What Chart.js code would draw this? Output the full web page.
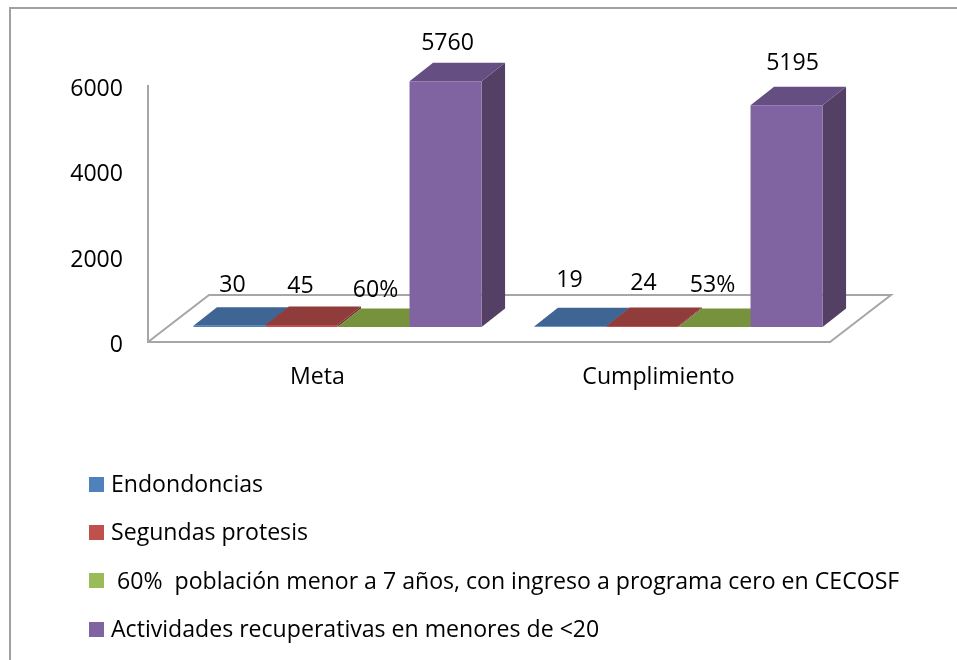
<!DOCTYPE html>
<html>
<head>
<meta charset="utf-8">
<style>html,body{margin:0;padding:0;background:#fff}canvas{display:block}</style>
<script src="https://cdn.jsdelivr.net/npm/chart.js@4"></script>
</head>
<body>
<canvas id="c" width="957" height="660"></canvas>
<script>
const categories = ['Meta', 'Cumplimiento'];
const seriesNames = ['Endondoncias', 'Segundas protesis', ' 60%  población menor a 7 años, con ingreso a programa cero en CECOSF', 'Actividades recuperativas en menores de <20'];
const endodoncias = [30, 19];
const segundasProtesis = [45, 24];
const poblacionMenor = [0.6, 0.53];
const actividades = [5760, 5195];
const valueLabels = [['30', '19'], ['45', '24'], ['60%', '53%'], ['5760', '5195']];
const yTicks = [0, 2000, 4000, 6000];

const FONT_FAMILY = '"Open Sans"';
const FONT_SIZE = 23.1;
const FONT = FONT_SIZE + 'px ' + FONT_FAMILY;
const front = ['#4F81BD', '#C0504D', '#9BBB59', '#8064A2'];
const top3d = ['#3E6593', '#8F3C3A', '#76923C', '#654E82'];
const side3d = ['#2F4D70', '#6E2E2C', '#5A702E', '#544065'];
const GRAY = '#A6A6A6';
const BAR_SHIFT = {x: 19, y: -15};
const BAR_DEPTH = {x: 23.5, y: -18.5};
const FLOOR_DEPTH = {x: 61, y: -47};
const labelNudge = [[[3, -40.5], [-1, -45.5]], [[-1, -38.5], [1, -42.5]], [[2, -36.5], [-2, -41.5]], [[2, -37.5], [6, -41.5]]];
const legendRows = [485, 533.5, 582, 630.5];
const legendSwatches = [484.5, 532.5, 580.5, 629.5];

function poly(ctx, pts, fill) {
  ctx.beginPath();
  pts.forEach((p, i) => i ? ctx.lineTo(p[0], p[1]) : ctx.moveTo(p[0], p[1]));
  ctx.closePath();
  ctx.fillStyle = fill;
  ctx.fill();
}

const frame3d = {
  id: 'frame3d',
  beforeDatasetsDraw(chart) {
    const {ctx, chartArea: a} = chart;
    ctx.save();
    ctx.fillStyle = '#A0A0A0';
    ctx.fillRect(9, 7, 948, 2);
    ctx.fillRect(9, 7, 2, 653);
    ctx.strokeStyle = GRAY;
    ctx.lineWidth = 2;
    ctx.beginPath();
    ctx.moveTo(a.left, a.bottom);
    ctx.lineTo(a.left + FLOOR_DEPTH.x, a.bottom + FLOOR_DEPTH.y);
    ctx.lineTo(a.right + FLOOR_DEPTH.x, a.bottom + FLOOR_DEPTH.y);
    ctx.lineTo(a.right, a.bottom);
    ctx.stroke();
    ctx.restore();
    ctx.save();
    ctx.translate(BAR_SHIFT.x, BAR_SHIFT.y);
    chart.data.datasets.forEach((ds, i) => {
      chart.getDatasetMeta(i).data.forEach(bar => {
        const l = bar.x - bar.width / 2, r = bar.x + bar.width / 2, t = bar.y, b = bar.base;
        const d = BAR_DEPTH;
        poly(ctx, [[r, t], [r + d.x, t + d.y], [r + d.x, b + d.y], [r, b]], side3d[i]);
        poly(ctx, [[l, t], [l + d.x, t + d.y], [r + d.x, t + d.y], [r, t]], top3d[i]);
      });
    });
  },
  afterDatasetsDraw(chart) {
    const {ctx} = chart;
    ctx.restore();
    ctx.save();
    ctx.font = FONT;
    ctx.fillStyle = '#000';
    ctx.textAlign = 'center';
    ctx.textBaseline = 'middle';
    chart.data.datasets.forEach((ds, i) => {
      chart.getDatasetMeta(i).data.forEach((bar, j) => {
        const n = labelNudge[i][j];
        ctx.fillText(valueLabels[i][j], bar.x + BAR_SHIFT.x + n[0], bar.y + BAR_SHIFT.y + n[1]);
      });
    });
    ctx.textAlign = 'left';
    chart.data.datasets.forEach((ds, i) => {
      ctx.fillStyle = front[i];
      ctx.fillRect(89, legendSwatches[i] - 7.5, 15, 15);
      ctx.fillStyle = '#000';
      ctx.fillText(ds.label, 111, legendRows[i]);
    });
    ctx.restore();
  }
};

const seriesValues = [endodoncias, segundasProtesis, poblacionMenor, actividades];
new Chart(document.getElementById('c'), {
  type: 'bar',
  data: {
    labels: categories,
    datasets: seriesNames.map((name, i) => ({
      label: name,
      data: seriesValues[i],
      backgroundColor: front[i],
      borderWidth: 0,
      clip: false,
      categoryPercentage: 0.845,
      barPercentage: 1
    }))
  },
  options: {
    responsive: false,
    animation: false,
    layout: {padding: {left: 48, top: 86, right: 127, bottom: 258}},
    plugins: {legend: {display: false}, tooltip: {enabled: false}},
    scales: {
      x: {
        afterFit(s) { s.height = 60; },
        grid: {display: false, drawTicks: false},
        border: {display: true, color: GRAY, width: 2},
        ticks: {color: '#000', font: {family: 'Open Sans', size: FONT_SIZE}, padding: 22, labelOffset: -1, maxRotation: 0}
      },
      y: {
        min: 0, max: 6000,
        afterFit(s) { s.width = 100; },
        afterBuildTicks(s) { s.ticks = yTicks.map(v => ({value: v})); },
        grid: {display: false, drawTicks: false},
        border: {display: true, color: GRAY, width: 2},
        ticks: {color: '#000', font: {family: 'Open Sans', size: FONT_SIZE}, padding: 25, labelOffset: 3.5, callback: v => String(v)}
      }
    }
  },
  plugins: [frame3d]
});
</script>
</body>
</html>
